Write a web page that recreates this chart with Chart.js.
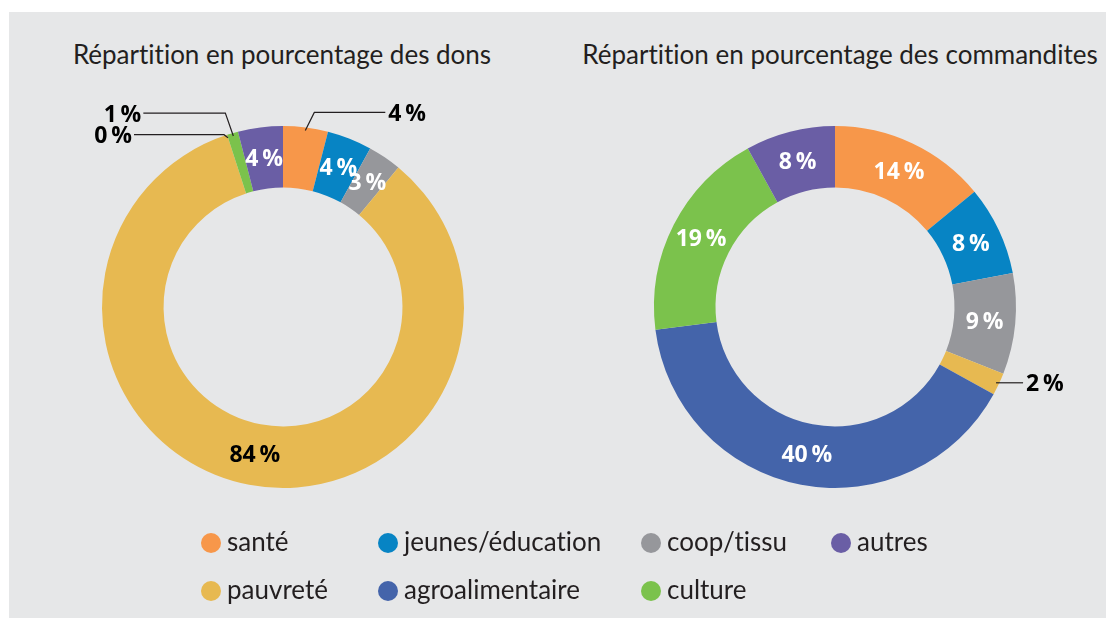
<!DOCTYPE html>
<html lang="fr">
<head>
<meta charset="utf-8">
<script src="https://cdn.jsdelivr.net/npm/chart.js@4"></script>
<style>
  body { margin: 0; background: #fff; width: 1106px; height: 618px; overflow: hidden; font-variant-ligatures: none; }
  #panel { position: absolute; left: 9px; top: 12px; width: 1097px; height: 606px; background: #e6e7e8; }
  .title { position: absolute; top: 26px; font: 26px Lato, sans-serif; color: #231f20; white-space: nowrap; transform: translateX(-50%); font-variant-ligatures: none; }
  canvas { position: absolute; top: 0; }
  .leg { position: absolute; font: 26px Lato, sans-serif; color: #231f20; white-space: nowrap; line-height: 30px; font-variant-ligatures: none; }
  .leg span { display: inline-block; width: 20px; height: 20px; border-radius: 50%; vertical-align: -2px; margin-right: 6px; }
</style>
</head>
<body>
<div id="panel">
  <div class="title" style="left:273px">Répartition en pourcentage des dons</div>
  <div class="title" style="left:831px">Répartition en pourcentage des commandites</div>
  <canvas id="dons" width="548" height="606" style="left:0"></canvas>
  <canvas id="commandites" width="549" height="606" style="left:548px"></canvas>
</div>
<script>
// categories and values
const categories = ["santé", "jeunes/éducation", "coop/tissu", "pauvreté", "agroalimentaire", "culture", "autres"];
const colors = ["#f7974a", "#0784c4", "#96979b", "#e7b951", "#4464aa", "#7bc24c", "#6a5ea5"];
const donsValues = [4, 4, 3, 84, 0, 1, 4];
const commanditesValues = [14, 8, 9, 2, 40, 19, 8];
// legend order (two rows)
const legendRow1 = [0, 1, 2, 6];
const legendRow2 = [3, 4, 5];

// label colour per slice, "out" = outside label with leader line
const donsLabelColors = ["out", "#fff", "#fff", "#000", "out", "out", "#fff"];
const commanditesLabelColors = ["#fff", "#fff", "#fff", "out", "#fff", "#fff", "#fff"];

// leader line shapes: elbow offset from the arc edge, then horizontal run
const donsLeaders = {
  0: { elbow: [9, -18], run: 71 },
  4: { elbow: [-4, -3], run: -90 },
  5: { elbow: [-8, -23], run: -82 },
};
const commanditesLeaders = {
  3: { elbow: [0, 0], run: 27 },
};

const labelFont = "bold 23px 'Open Sans', sans-serif";

const sliceLabels = {
  id: "sliceLabels",
  afterDatasetsDraw(chart, args, opts) {
    const { ctx } = chart;
    const meta = chart.getDatasetMeta(0);
    const values = chart.data.datasets[0].data;
    ctx.save();
    ctx.font = labelFont;
    meta.data.forEach((arc, i) => {
      const txt = values[i] + "\u2009%";
      const col = opts.colors[i];
      if (col !== "out") {
        const p = arc.tooltipPosition();
        ctx.fillStyle = col;
        ctx.textAlign = "center";
        ctx.textBaseline = "middle";
        ctx.fillText(txt, p.x, p.y + 1);
        return;
      }
      // outside label with leader
      const { x, y, startAngle, endAngle, outerRadius } = arc.getProps(["x", "y", "startAngle", "endAngle", "outerRadius"]);
      const mid = (startAngle + endAngle) / 2;
      const ax = x + Math.cos(mid) * (outerRadius - 3);
      const ay = y + Math.sin(mid) * (outerRadius - 3);
      const l = opts.leaders[i];
      const ex = ax + l.elbow[0], ey = ay + l.elbow[1];
      const endX = ex + l.run;
      ctx.strokeStyle = "#231f20";
      ctx.lineWidth = 1.2;
      ctx.beginPath();
      ctx.moveTo(ax, ay);
      ctx.lineTo(ex, ey);
      ctx.lineTo(endX, ey);
      ctx.stroke();
      ctx.fillStyle = "#000";
      ctx.textBaseline = "middle";
      if (l.run > 0) {
        ctx.textAlign = "left";
        ctx.fillText(txt, endX + 3, ey + 2);
      } else {
        ctx.textAlign = "right";
        ctx.fillText(txt, endX - 2, ey + 2);
      }
    });
    ctx.restore();
  },
};

function makeDonut(id, values, labelColors, leaders, padding) {
  return new Chart(document.getElementById(id), {
    type: "doughnut",
    data: {
      labels: categories,
      datasets: [{ data: values, backgroundColor: colors, borderWidth: 0 }],
    },
    options: {
      responsive: false,
      animation: false,
      cutout: "66%",
      layout: { padding: padding },
      plugins: {
        legend: { display: false },
        tooltip: { enabled: false },
        sliceLabels: { colors: labelColors, leaders: leaders },
      },
    },
    plugins: [sliceLabels],
  });
}

makeDonut("dons", donsValues, donsLabelColors, donsLeaders, { left: 93, right: 93, top: 114, bottom: 130 });
makeDonut("commandites", commanditesValues, commanditesLabelColors, commanditesLeaders, { left: 97, right: 90, top: 114, bottom: 130 });

// legend built from the same arrays
const panel = document.getElementById("panel");
const colX = [192, 369, 632, 822];
[legendRow1, legendRow2].forEach((row, r) => {
  row.forEach((idx, c) => {
    const d = document.createElement("div");
    d.className = "leg";
    d.style.left = colX[c] + "px";
    d.style.top = (514 + r * 48) + "px";
    d.innerHTML = '<span style="background:' + colors[idx] + '"></span>' + categories[idx];
    panel.appendChild(d);
  });
});
</script>
</body>
</html>
